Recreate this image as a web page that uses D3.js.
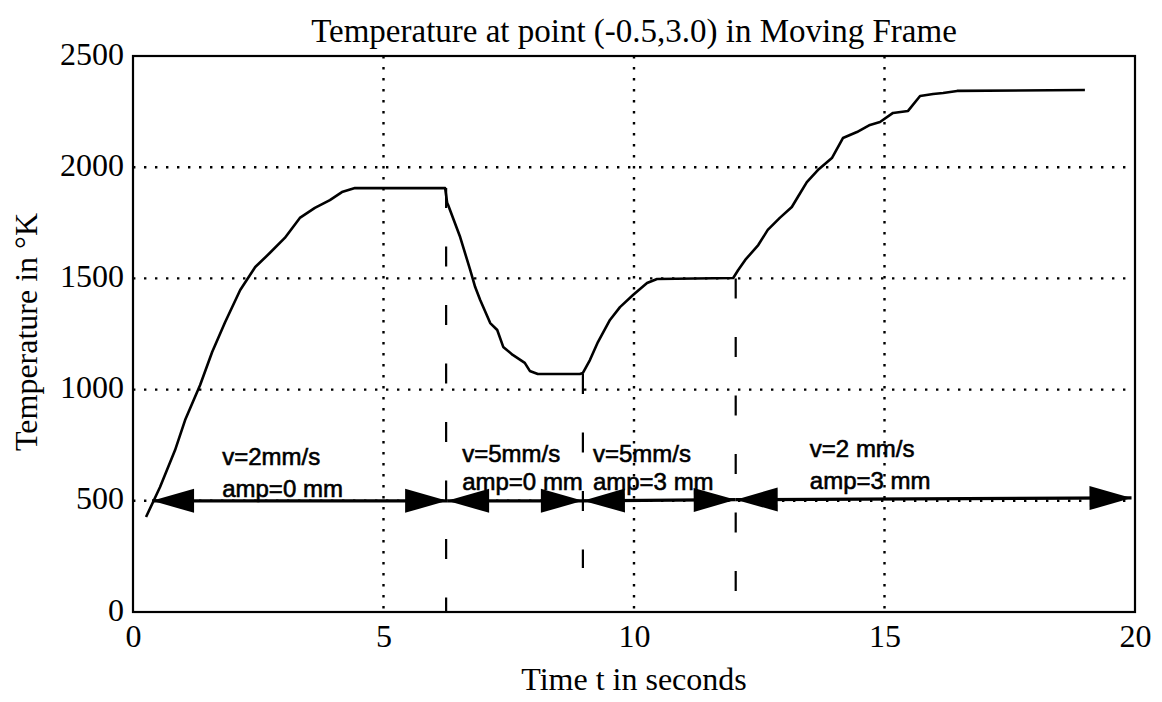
<!DOCTYPE html>
<html>
<head>
<meta charset="utf-8">
<script src="https://cdn.jsdelivr.net/npm/d3@7"></script>
<style>
  html, body { margin: 0; padding: 0; background: #fff; }
  svg { display: block; }
</style>
</head>
<body>
<svg id="chart" width="1162" height="702"></svg>
<script>
// ---- Data ----
const timeValues = [0.26, 0.54, 0.84, 1.04, 1.34, 1.58, 1.84, 2.14, 2.44, 2.73, 3.03, 3.33, 3.63, 3.93, 4.17, 4.43,
  6.23, 6.27, 6.29, 6.53, 6.73, 6.83, 6.93, 7.13, 7.27, 7.39, 7.58, 7.82, 7.92, 8.08, 8.92, 8.98,
  9.12, 9.28, 9.52, 9.72, 9.98, 10.26, 10.46, 11.98,
  12.08, 12.22, 12.48, 12.67, 12.91, 13.15, 13.27, 13.45, 13.67, 13.95, 14.17, 14.45, 14.71, 14.91,
  15.17, 15.47, 15.71, 15.97, 16.17, 16.45, 19.0];
const tempValues = [427, 562, 728, 863, 1021, 1169, 1304, 1448, 1551, 1614, 1682, 1772, 1817, 1852, 1888, 1906,
  1906, 1840, 1830, 1686, 1538, 1461, 1403, 1299, 1268, 1192, 1156, 1120, 1084, 1070, 1070, 1075,
  1133, 1214, 1313, 1371, 1425, 1479, 1497, 1502,
  1538, 1583, 1650, 1718, 1772, 1821, 1866, 1933, 1987, 2041, 2131, 2158, 2190, 2203,
  2244, 2253, 2320, 2329, 2334, 2343, 2347];

const xTicks = [0, 5, 10, 15, 20];
const yTicks = [0, 500, 1000, 1500, 2000, 2500];
const xGrid = [5, 10, 15];
const yGrid = [500, 1000, 1500, 2000];

// phase change markers (dashed lines)
const phaseTimes = [6.25, 8.98, 12.03];
const phaseTop = [1906, 1070, 1500];
const phaseBottom = [0, 198, 85];

// arrow segment boundaries
const arrowTimes = [0.38, 6.27, 8.98, 12.03, 19.93];
const arrowTemps = [500, 500, 500, 505, 513];

// annotations
const labelLine1 = ["v=2mm/s", "v=5mm/s", "v=5mm/s", "v=2 mm/s"];
const labelLine2 = ["amp=0 mm", "amp=0 mm", "amp=3 mm", "amp=3 mm"];
const labelTimes = [1.78, 6.57, 9.18, 13.51];
const labelTemp1 = [661, 674, 674, 697];
const labelTemp2 = [517, 549, 549, 553];

const titleText = "Temperature at point (-0.5,3.0) in Moving Frame";
const xLabel = "Time t in seconds";
const yLabel = "Temperature in °K";

// ---- Layout ----
const svg = d3.select("#chart");
const L = 133, R = 1135, T = 56, B = 612;
const x = d3.scaleLinear().domain([0, 20]).range([L, R]);
const y = d3.scaleLinear().domain([0, 2500]).range([B, T]);
const serif = "'Liberation Serif', 'Times New Roman', Times, serif";
const sans = "'Liberation Sans', Arial, Helvetica, sans-serif";

// grid
const grid = svg.append("g").attr("stroke", "#000").attr("stroke-width", 2.4)
  .attr("stroke-dasharray", "2.4,8.6").attr("fill", "none");
grid.selectAll("line.v").data(xGrid).join("line")
  .attr("x1", d => x(d)).attr("x2", d => x(d)).attr("y1", T).attr("y2", B);
grid.selectAll("line.h").data(yGrid).join("line")
  .attr("x1", L).attr("x2", R).attr("y1", d => y(d)).attr("y2", d => y(d));

// axes (ticks hidden, labels only)
const xAxis = d3.axisBottom(x).tickValues(xTicks).tickSize(0).tickPadding(0).tickFormat(d3.format("d"));
const yAxis = d3.axisLeft(y).tickValues(yTicks).tickSize(0).tickPadding(0).tickFormat(d3.format("d"));
const gx = svg.append("g").attr("transform", `translate(0,${B})`).call(xAxis);
const gy = svg.append("g").attr("transform", `translate(${L - 9},0)`).call(yAxis);
[gx, gy].forEach(g => {
  g.select(".domain").remove();
  g.selectAll("text").attr("font-family", serif).attr("font-size", 32).attr("fill", "#000");
});
gx.selectAll("text").attr("dy", null).attr("y", 35);
gy.selectAll("text").attr("dy", "0.25em").attr("x", 0);

// frame
svg.append("rect").attr("x", L).attr("y", T).attr("width", R - L).attr("height", B - T)
  .attr("fill", "none").attr("stroke", "#000").attr("stroke-width", 2.2);

// phase dashed lines
svg.append("g").selectAll("line").data(phaseTimes).join("line")
  .attr("x1", d => x(d)).attr("x2", d => x(d))
  .attr("y1", (d, i) => y(phaseTop[i])).attr("y2", (d, i) => y(phaseBottom[i]))
  .attr("stroke", "#000").attr("stroke-width", 2.2).attr("stroke-dasharray", "20,38.5");

// temperature curve
const pts = timeValues.map((t, i) => [t, tempValues[i]]);
svg.append("path").datum(pts)
  .attr("d", d3.line().x(d => x(d[0])).y(d => y(d[1])))
  .attr("fill", "none").attr("stroke", "#000").attr("stroke-width", 2.6)
  .attr("stroke-linejoin", "round");

// arrows
const headLen = 42, headHalf = 12;
const ag = svg.append("g");
for (let i = 0; i < arrowTimes.length - 1; i++) {
  const x0 = x(arrowTimes[i]), y0 = y(arrowTemps[i]);
  const x1 = x(arrowTimes[i + 1]), y1 = y(arrowTemps[i + 1]);
  ag.append("line").attr("x1", x0).attr("y1", y0).attr("x2", x1).attr("y2", y1)
    .attr("stroke", "#000").attr("stroke-width", 3.2);
  const ang = Math.atan2(y1 - y0, x1 - x0);
  const head = (tx, ty, dir) => {
    const c = Math.cos(ang) * dir, s = Math.sin(ang) * dir;
    const bx = tx - c * headLen, by = ty - s * headLen;
    return `M${tx},${ty}L${bx - s * headHalf},${by + c * headHalf}L${bx + s * headHalf},${by - c * headHalf}Z`;
  };
  ag.append("path").attr("d", head(x0, y0, -1)).attr("fill", "#000");
  ag.append("path").attr("d", head(x1, y1, 1)).attr("fill", "#000");
}

// annotation labels
const lg = svg.append("g").attr("font-family", sans).attr("font-size", 24)
  .attr("fill", "#000").attr("stroke", "#000").attr("stroke-width", 0.6);
lg.selectAll("text.l1").data(labelLine1).join("text")
  .attr("x", (d, i) => x(labelTimes[i])).attr("y", (d, i) => y(labelTemp1[i])).text(d => d);
lg.selectAll("text.l2").data(labelLine2).join("text")
  .attr("x", (d, i) => x(labelTimes[i])).attr("y", (d, i) => y(labelTemp2[i])).text(d => d);

// title & axis labels
svg.append("text").attr("x", (L + R) / 2).attr("y", 42).attr("text-anchor", "middle")
  .attr("font-family", serif).attr("font-size", 33).text(titleText);
svg.append("text").attr("x", (L + R) / 2).attr("y", 690).attr("text-anchor", "middle")
  .attr("font-family", serif).attr("font-size", 32).text(xLabel);
svg.append("text").attr("transform", "translate(37,332) rotate(-90)").attr("text-anchor", "middle")
  .attr("font-family", serif).attr("font-size", 32).text(yLabel);
</script>
</body>
</html>
